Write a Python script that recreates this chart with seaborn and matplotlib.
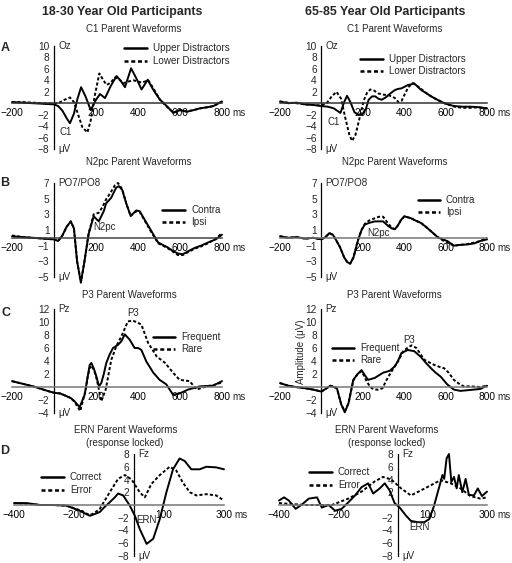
import numpy as np
import pandas as pd
import matplotlib
matplotlib.use('Agg')
import matplotlib.pyplot as plt
import seaborn as sns
from matplotlib.lines import Line2D

sns.set_style('white')
plt.rcParams['font.family'] = ['Liberation Sans', 'DejaVu Sans']
plt.rcParams['axes.unicode_minus'] = True

# ---------------------------------------------------------------------------
# Data (microvolts vs ms)
# ---------------------------------------------------------------------------
# A: C1, young
c1_young_upper_t = [-200, -150, -100, -50, 0, 20, 40, 60, 76, 95, 112, 129, 150, 175, 200, 219, 243, 270,
                    298, 320, 338, 367, 390, 417, 446, 475, 505, 540, 568, 600, 632, 665, 695, 730, 759, 800]
c1_young_upper_v = [0.2, 0.1, 0.0, -0.1, -0.2, -0.5, -1.3, -2.6, -3.5, -1.8, 0.8, 2.8, 1.2, -1.2, 0.6, 1.6, 0.9, 3.0,
                    4.75, 3.8, 2.8, 6.1, 4.5, 2.4, 4.1, 2.2, 0.6, -0.6, -1.7, -1.2, -1.5, -1.2, -0.9, -0.7, -0.5, 0.3]
c1_young_lower_t = [-200, -150, -100, -50, 0, 25, 50, 76, 95, 115, 135, 159, 175, 195, 216, 235, 251, 270, 290,
                    310, 330, 355, 378, 400, 417, 449, 475, 505, 540, 568, 600, 632, 665, 695, 730, 759, 800]
c1_young_lower_v = [0.2, 0.2, 0.1, 0.0, -0.1, 0.1, 0.6, 1.0, 0.2, -2.0, -4.2, -5.1, -3.0, 1.5, 5.2, 4.0, 3.2, 3.6, 4.5,
                    4.2, 3.5, 3.8, 4.0, 3.8, 3.6, 4.0, 2.5, 0.6, -0.7, -1.6, -1.2, -1.4, -1.2, -0.9, -0.7, -0.5, 0.3]
# A: C1, old
c1_old_upper_t = [-200, -160, -120, -80, -40, 0, 30, 60, 92, 110, 124, 140, 160, 180, 196, 215, 228, 245, 260, 275,
                  291, 310, 323, 340, 355, 370, 387, 403, 419, 435, 447, 465, 482, 505, 530, 560, 594, 620, 642,
                  680, 721, 760, 800]
c1_old_upper_v = [0.3, 0.0, 0.1, -0.2, -0.3, -0.5, -0.6, -0.9, -1.7, 0.2, 1.3, 0.2, -1.6, -2.0, -2.0, -1.0, 0.6, 1.2,
                  1.2, 0.8, 0.6, 1.0, 1.4, 1.9, 2.3, 2.5, 2.6, 2.9, 3.2, 3.3, 3.5, 2.9, 2.3, 1.8, 1.2, 0.6, 0.0,
                  -0.3, -0.5, -0.6, -0.6, -0.7, -0.9]
c1_old_lower_t = [-200, -160, -120, -80, -40, 0, 25, 50, 73, 95, 115, 135, 148, 165, 185, 205, 220, 236, 255, 275,
                  300, 323, 340, 355, 372, 387, 403, 420, 440, 460, 482, 505, 530, 560, 594, 620, 642, 680, 721,
                  760, 800]
c1_old_lower_v = [0.3, 0.1, 0.0, -0.2, -0.3, -0.4, 0.0, 1.2, 2.0, 0.8, -2.5, -5.5, -6.6, -5.5, -2.5, 0.5, 1.8, 2.4,
                  2.2, 1.7, 1.5, 1.4, 1.2, 0.9, 0.2, 0.4, 1.6, 2.8, 3.5, 3.1, 2.5, 1.8, 1.2, 0.6, 0.0, -0.3, -0.6,
                  -0.8, -0.8, -0.7, -0.9]

# B: N2pc, young
n2_young_contra_t = [-200, -150, -100, -50, 0, 20, 40, 60, 80, 95, 110, 128, 145, 165, 189, 213, 237, 248, 272,
                     296, 309, 325, 344, 365, 392, 408, 432, 464, 496, 540, 568, 590, 613, 640, 669, 700, 733, 770,
                     800]
n2_young_contra_v = [0.2, 0.1, 0.0, -0.1, -0.2, -0.4, 0.3, 1.4, 2.1, 1.2, -3.0, -5.7, -3.0, 0.5, 2.75, 2.1, 3.4,
                     4.4, 5.1, 6.4, 6.6, 6.1, 4.4, 2.8, 3.5, 3.4, 2.3, 0.85, -0.6, -1.2, -1.7, -2.0, -2.1, -1.7, -1.3,
                     -1.0, -0.6, -0.2, 0.4]
n2_young_ipsi_t = [-200, -150, -100, -50, 0, 20, 40, 60, 80, 95, 110, 128, 145, 165, 189, 213, 230, 248, 270, 290,
                   305, 325, 344, 365, 392, 408, 432, 464, 496, 540, 568, 590, 613, 640, 669, 700, 733, 770, 800]
n2_young_ipsi_v = [0.3, 0.1, 0.0, -0.1, -0.2, -0.4, 0.3, 1.4, 2.1, 1.2, -3.0, -5.7, -3.0, 0.6, 3.0, 3.2, 3.9, 4.9,
                   5.8, 6.7, 7.0, 6.2, 4.4, 2.8, 3.4, 3.3, 2.2, 0.7, -0.7, -1.3, -1.8, -2.2, -2.2, -1.8, -1.4, -1.1,
                   -0.7, -0.1, 0.6]
# B: N2pc, old
n2_old_t = [-200, -160, -120, -80, -40, 0, 20, 38, 55, 67, 90, 110, 125, 139, 155, 178, 194, 210, 230, 258, 280,
            298, 323, 340, 355, 370, 385, 401, 420, 433, 455, 481, 505, 529, 561, 585, 608, 640, 670, 704, 740,
            768, 800]
n2_old_contra_v = [0.2, 0.0, 0.1, -0.1, 0.0, -0.2, 0.1, 0.6, 0.4, -0.1, -1.2, -2.5, -3.1, -3.3, -2.5, -0.2, 1.0,
                   1.7, 1.9, 2.1, 2.1, 2.1, 1.5, 1.2, 1.1, 1.6, 2.3, 2.75, 2.6, 2.5, 2.2, 1.9, 1.4, 0.85, 0.1, -0.2,
                   -0.4, -1.0, -0.9, -0.85, -0.7, -0.4, -0.2]
n2_old_ipsi_v = [0.2, 0.0, 0.1, -0.1, 0.0, -0.2, 0.1, 0.6, 0.4, -0.1, -1.2, -2.5, -3.1, -3.3, -2.5, -0.2, 1.0, 1.8,
                 2.2, 2.5, 2.7, 2.7, 1.8, 1.3, 1.1, 1.6, 2.3, 2.75, 2.6, 2.5, 2.2, 1.9, 1.4, 0.85, 0.1, -0.3, -0.6,
                 -1.0, -0.9, -0.8, -0.6, -0.4, 0.0]

# C: P3, young
p3_young_freq_t = [-200, -150, -100, -60, -21, 3, 30, 59, 80, 98, 122, 146, 160, 170, 178, 190, 202, 214, 225, 237,
                   249, 265, 281, 305, 320, 337, 360, 384, 400, 416, 440, 473, 503, 535, 567, 598, 638, 694, 757, 800]
p3_young_freq_v = [0.9, 0.5, 0.1, -0.3, -0.7, -0.9, -1.0, -1.4, -1.7, -2.2, -3.1, -1.2, 1.5, 3.4, 3.7, 2.8, 1.6,
                   0.1, 0.6, 2.0, 3.7, 5.0, 6.0, 6.5, 7.0, 8.1, 7.3, 6.0, 6.0, 5.7, 3.9, 2.2, 1.1, 0.4, -1.2, -1.0,
                   -0.4, 0.1, 0.2, 0.9]
p3_young_rare_t = [-200, -150, -100, -60, -21, 3, 30, 59, 80, 98, 125, 151, 160, 170, 178, 192, 205, 225, 246, 260,
                   273, 297, 321, 352, 375, 392, 416, 448, 489, 529, 567, 598, 646, 679, 725, 760, 800]
p3_young_rare_v = [0.9, 0.5, 0.1, -0.3, -0.7, -0.9, -1.0, -1.4, -1.7, -2.3, -3.7, -0.4, 1.5, 2.9, 3.3, 2.5, 1.0,
                   -2.2, -0.4, 2.0, 4.2, 6.3, 7.8, 10.1, 10.2, 10.0, 9.6, 6.8, 4.7, 3.7, 2.2, 1.1, 0.9, -0.4, 0.1,
                   0.3, 0.7]
# C: P3, old
p3_old_freq_t = [-200, -160, -124, -76, -40, 0, 20, 43, 60, 75, 96, 113, 131, 154, 175, 194, 210, 226, 258, 298,
                 331, 355, 370, 386, 417, 449, 481, 505, 529, 552, 576, 608, 640, 672, 704, 736, 768, 800]
p3_old_freq_v = [0.6, 0.2, 0.0, -0.2, -0.4, -0.7, -0.3, 0.2, 0.0, -0.2, -2.7, -3.9, -2.5, 1.1, 2.0, 2.6, 1.8, 1.1,
                 1.4, 2.2, 2.5, 3.2, 4.0, 5.2, 5.7, 5.5, 4.6, 3.7, 2.9, 2.2, 1.6, 0.4, -0.4, -0.6, -0.5, -0.4, -0.3,
                 0.2]
p3_old_rare_t = [-200, -160, -124, -76, -40, 0, 20, 43, 60, 75, 96, 113, 131, 154, 175, 193, 205, 218, 232, 244,
                 260, 275, 295, 315, 335, 355, 375, 395, 415, 435, 459, 478, 497, 520, 545, 570, 592, 615, 640, 665,
                 688, 720, 768, 800]
p3_old_rare_v = [0.6, 0.2, 0.0, -0.2, -0.4, -0.7, -0.3, 0.2, 0.0, -0.2, -2.7, -3.7, -2.5, 1.0, 2.0, 2.4, 1.8, 0.9,
                 0.2, -0.2, -0.4, -0.4, -0.2, 1.1, 2.2, 3.2, 4.2, 5.5, 6.0, 6.4, 6.0, 5.1, 4.2, 3.8, 3.4, 3.1, 2.9,
                 2.2, 1.1, 0.5, 0.1, 0.1, 0.0, 0.2]

# D: ERN (response locked), young
ern_young_corr_t = [-400, -358, -313, -269, -225, -181, -160, -147, -130, -114, -100, -86, -64, -53, -36, -14, 3,
                    19, 42, 64, 86, 108, 130, 152, 169, 191, 219, 241, 274, 300]
ern_young_corr_v = [0.3, 0.3, 0.0, 0.0, -0.1, -0.9, -1.4, -1.7, -1.4, -1.1, -0.4, 0.2, 1.2, 1.8, 1.5, -0.1, -1.7,
                    -3.75, -6.1, -5.3, -2.2, 2.0, 5.6, 7.3, 6.9, 5.6, 5.6, 6.0, 5.9, 5.6]
ern_young_err_t = [-400, -358, -313, -269, -225, -181, -160, -147, -130, -114, -100, -81, -53, -30, -8, 19, 36, 58,
                   86, 119, 141, 163, 186, 208, 241, 274, 300]
ern_young_err_v = [0.3, 0.2, 0.0, 0.0, -0.1, -0.8, -1.3, -1.6, -1.2, -0.6, 0.5, 2.0, 4.1, 4.7, 4.0, 2.0, 1.2, 3.3,
                   4.7, 6.0, 5.4, 3.5, 2.0, 1.5, 1.7, 1.5, 0.7]
# D: ERN (response locked), old
ern_old_corr_t = [-400, -383, -367, -344, -322, -300, -272, -256, -233, -211, -189, -167, -144, -122, -100, -83,
                  -61, -44, -28, -11, 6, 28, 44, 67, 89, 106, 122, 139, 150, 156, 164, 172, 180, 189, 198, 205, 217,
                  228, 239, 256, 269, 283, 300]
ern_old_corr_v = [0.7, 1.2, 0.7, -0.6, 0.1, 1.0, 1.2, -0.4, 0.0, -0.9, -0.6, 0.4, 1.5, 2.8, 3.4, 1.8, 2.6, 3.4, 2.3,
                  0.3, -0.4, -1.7, -2.5, -2.7, -2.7, -2.2, -0.1, 2.8, 4.7, 4.1, 7.3, 8.0, 3.6, 4.4, 2.6, 4.7, 2.0,
                  4.1, 1.6, 1.5, 2.6, 1.4, 2.1]
ern_old_err_t = [-400, -311, -222, -167, -122, -78, -50, -22, 11, 44, 78, 111, 144, 178, 211, 244, 278, 300]
ern_old_err_v = [0.3, 0.0, 0.0, 1.0, 2.1, 3.7, 4.4, 4.0, 2.6, 1.5, 2.3, 3.1, 3.9, 3.4, 2.6, 1.4, 1.0, 1.2]

# ---------------------------------------------------------------------------
# Figure helpers (pixel layout of the 512 x 563 reference)
# ---------------------------------------------------------------------------
W, H = 512, 563
fig = plt.figure(figsize=(W / 100, H / 100), dpi=100)


def box(x0, x1, ytop, ybot):
    return [x0 / W, 1 - ybot / H, (x1 - x0) / W, (ybot - ytop) / H]


def ftext(x, y, s, **kw):
    kw.setdefault('ha', 'center')
    kw.setdefault('va', 'center')
    kw.setdefault('fontsize', 7)
    fig.text(x / W, 1 - y / H, s, **kw)


def legend_entry(x0, x1, y, label, dotted):
    ls = (0, (1.6, 1.1)) if dotted else '-'
    fig.add_artist(Line2D([x0 / W, x1 / W], [1 - y / H] * 2, color='black', lw=1.8, ls=ls))
    ftext(x1 + 6, y, label, ha='left', fontsize=7.1)


def lab(v):
    return str(v).replace('-', '\u2212')


def panel(rect, xlim, ylim, yticks, xlabeled, site, axis_col):
    ax = fig.add_axes(rect)
    ax.patch.set_visible(False)
    ax.set_xlim(xlim)
    ax.set_ylim(ylim)
    for s in ['top', 'right']:
        ax.spines[s].set_visible(False)
    ax.spines['left'].set_position(('data', 0))
    ax.spines['bottom'].set_position(('data', 0))
    ax.spines['left'].set_color('black')
    ax.spines['bottom'].set_color(axis_col)
    ax.spines['left'].set_linewidth(0.9)
    ax.spines['bottom'].set_linewidth(1.1)
    xt = list(range(xlim[0], xlim[1] + 1, 100))
    ax.set_xticks(xt)
    ax.set_xticklabels([lab(v) if v in xlabeled else '' for v in xt])
    ax.set_yticks(yticks)
    ax.set_yticklabels([lab(v) if v != 0 else '' for v in yticks])
    ax.tick_params(axis='both', direction='inout', length=4.5, width=0.8, labelsize=7.3, pad=1)
    ax.tick_params(axis='x', colors=axis_col, labelcolor='black', pad=1.5)
    ax.set_xlabel('')
    ax.set_ylabel('')
    ax.annotate('ms', xy=(xlim[1], 0), xytext=(7.3, -3.7), textcoords='offset points',
                ha='left', va='top', fontsize=7.1)
    ax.annotate(site, xy=(0, ylim[1]), xytext=(3, 0), textcoords='offset points',
                ha='left', va='center', fontsize=7.1)
    ax.annotate('\u03bcV', xy=(0, ylim[0]), xytext=(3, 0), textcoords='offset points',
                ha='left', va='center', fontsize=7.1)
    return ax


def draw(ax, t, v, dotted):
    df = pd.DataFrame({'t': t, 'v': v})
    ls = (0, (1.6, 1.1)) if dotted else '-'
    sns.lineplot(data=df, x='t', y='v', ax=ax, color='black', lw=1.4, linestyle=ls,
                 estimator=None, legend=False, clip_on=False)
    ax.set_xlabel('')
    ax.set_ylabel('')


# ---------------------------------------------------------------------------
# Column titles
# ---------------------------------------------------------------------------
ftext(122, 12, '18-30 Year Old Participants', fontsize=8.9, fontweight='bold')
ftext(385, 12, '65-85 Year Old Participants', fontsize=8.9, fontweight='bold')

# ---------------------------------------------------------------------------
# Row A: C1
# ---------------------------------------------------------------------------
ftext(5, 48, 'A', fontsize=9, fontweight='bold')
ftext(134, 29, 'C1 Parent Waveforms')
ftext(395, 29, 'C1 Parent Waveforms')
a_ticks = list(range(-8, 11, 2))
ax = panel(box(12, 222, 46, 149), (-200, 800), (-8, 10), a_ticks, [-200, 200, 400, 600, 800], 'Oz', '#333333')
draw(ax, c1_young_lower_t, c1_young_lower_v, True)
draw(ax, c1_young_upper_t, c1_young_upper_v, False)
ax = panel(box(280, 487, 46, 149), (-200, 800), (-8, 10), a_ticks, [-200, 200, 400, 600, 800], 'Oz', '#333333')
draw(ax, c1_old_lower_t, c1_old_lower_v, True)
draw(ax, c1_old_upper_t, c1_old_upper_v, False)
legend_entry(124, 147, 48, 'Upper Distractors', False)
legend_entry(124, 147, 61, 'Lower Distractors', True)
legend_entry(360, 383, 59, 'Upper Distractors', False)
legend_entry(360, 383, 71, 'Lower Distractors', True)
ftext(66, 132, 'C1')
ftext(334, 122, 'C1')

# ---------------------------------------------------------------------------
# Row B: N2pc
# ---------------------------------------------------------------------------
ftext(5, 183, 'B', fontsize=9, fontweight='bold')
ftext(139, 162, 'N2pc Parent Waveforms')
ftext(395, 162, 'N2pc Parent Waveforms')
b_ticks = [-5, -3, -1, 1, 3, 5, 7]
ax = panel(box(12, 222, 183, 277), (-200, 800), (-5, 7), b_ticks, [-200, 200, 400, 600, 800], 'PO7/PO8', '#444444')
draw(ax, n2_young_ipsi_t, n2_young_ipsi_v, True)
draw(ax, n2_young_contra_t, n2_young_contra_v, False)
ax = panel(box(280, 487, 183, 277), (-200, 800), (-5, 7), b_ticks, [-200, 200, 400, 600, 800], 'PO7/PO8', '#777777')
draw(ax, n2_old_t, n2_old_ipsi_v, True)
draw(ax, n2_old_t, n2_old_contra_v, False)
legend_entry(162, 185, 210, 'Contra', False)
legend_entry(162, 185, 222, 'Ipsi', True)
legend_entry(418, 440, 200, 'Contra', False)
legend_entry(418, 440, 212, 'Ipsi', True)
ftext(105, 227, 'N2pc')
ftext(378, 233, 'N2pc')

# ---------------------------------------------------------------------------
# Row C: P3
# ---------------------------------------------------------------------------
ftext(6, 313, 'C', fontsize=9, fontweight='bold')
ftext(129, 295, 'P3 Parent Waveforms')
ftext(394, 295, 'P3 Parent Waveforms')
c_ticks = list(range(-4, 13, 2))
ax = panel(box(12, 222, 309, 413), (-200, 800), (-4, 12), c_ticks, [-200, 200, 400, 600, 800], 'Pz', '#777777')
draw(ax, p3_young_rare_t, p3_young_rare_v, True)
draw(ax, p3_young_freq_t, p3_young_freq_v, False)
ax = panel(box(280, 487, 309, 413), (-200, 800), (-4, 12), c_ticks, [-200, 200, 400, 600, 800], 'Pz', '#777777')
draw(ax, p3_old_rare_t, p3_old_rare_v, True)
draw(ax, p3_old_freq_t, p3_old_freq_v, False)
legend_entry(153, 175, 337, 'Frequent', False)
legend_entry(153, 175, 349, 'Rare', True)
legend_entry(332, 354, 348, 'Frequent', False)
legend_entry(332, 354, 360, 'Rare', True)
ftext(133, 313, 'P3')
ftext(409, 340, 'P3')
ftext(301, 352, 'Amplitude (\u03bcV)', rotation=90)

# ---------------------------------------------------------------------------
# Row D: ERN
# ---------------------------------------------------------------------------
ftext(5, 451, 'D', fontsize=9, fontweight='bold')
ftext(126, 430, 'ERN Parent Waveforms')
ftext(125, 443, '(response locked)')
ftext(387, 430, 'ERN Parent Waveforms')
ftext(387, 443, '(response locked)')
d_ticks = list(range(-8, 9, 2))
ax = panel(box(14, 224, 454, 556), (-400, 300), (-8, 8), d_ticks, [-400, -200, 100, 300], 'Fz', '#777777')
draw(ax, ern_young_err_t, ern_young_err_v, True)
draw(ax, ern_young_corr_t, ern_young_corr_v, False)
ax = panel(box(279, 487, 454, 556), (-400, 300), (-8, 8), d_ticks, [-400, -200, 100, 300], 'Fz', '#777777')
draw(ax, ern_old_err_t, ern_old_err_v, True)
draw(ax, ern_old_corr_t, ern_old_corr_v, False)
legend_entry(41, 64, 477, 'Correct', False)
legend_entry(41, 64, 490, 'Error', True)
legend_entry(309, 332, 472, 'Correct', False)
legend_entry(309, 332, 485, 'Error', True)
ftext(146, 520, 'ERN')
ftext(419, 527, 'ERN')

fig.savefig('out.png', dpi=100)
